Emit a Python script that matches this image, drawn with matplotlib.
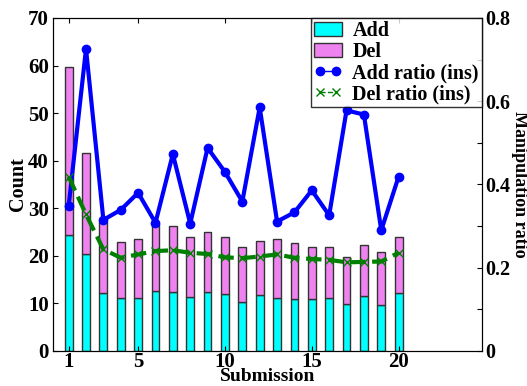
import numpy as np
import matplotlib
matplotlib.use('Agg')
import matplotlib.pyplot as plt
from matplotlib.lines import Line2D

plt.rcParams['font.family'] = ['Liberation Serif', 'DejaVu Serif']
plt.rcParams['font.weight'] = 'bold'

# Данные
submission = list(range(1, 21))
add_count = [24.3, 20.3, 12.1, 11.1, 11.1, 12.7, 12.5, 11.4, 12.5, 11.9,
             10.2, 11.7, 11.1, 10.9, 11.0, 11.1, 9.9, 11.5, 9.7, 12.1]
total_count = [59.6, 41.6, 27.2, 23.0, 23.6, 26.6, 26.2, 24.0, 25.1, 24.0,
               21.8, 23.1, 23.5, 22.8, 21.8, 21.9, 19.7, 22.2, 20.8, 24.0]
del_count = [t - a for t, a in zip(total_count, add_count)]
add_ratio = [0.348, 0.726, 0.315, 0.339, 0.380, 0.308, 0.473, 0.306, 0.488, 0.430,
             0.359, 0.585, 0.311, 0.333, 0.386, 0.326, 0.578, 0.568, 0.290, 0.419]
del_ratio = [0.419, 0.328, 0.244, 0.224, 0.232, 0.240, 0.242, 0.236, 0.233, 0.225,
             0.223, 0.227, 0.232, 0.224, 0.221, 0.219, 0.213, 0.214, 0.215, 0.236]

fig = plt.figure(figsize=(5.27, 3.86), dpi=100)
ax = fig.add_axes([0.1006, 0.0907, 0.8140, 0.8627])

b1 = ax.bar(submission, add_count, width=0.45, color='cyan', edgecolor='#333333',
            linewidth=1, label='Add')
b2 = ax.bar(submission, del_count, width=0.45, bottom=add_count, color='violet',
            edgecolor='#333333', linewidth=1, label='Del')

ax.set_xlim(0.1, 24.8)
ax.set_ylim(0, 70)
ax.set_xticks([1, 5, 10, 15, 20])
ax.set_yticks(range(0, 71, 10))
ax.tick_params(axis='both', direction='in', labelsize=15, pad=3)
ax.tick_params(axis='x', top=True, pad=1)
ax.set_xlabel('Submission', fontsize=14, fontweight='bold', labelpad=-3)
ax.set_ylabel('Count', fontsize=14.5, fontweight='bold', labelpad=0)

ax2 = ax.twinx()
l1, = ax2.plot(submission, add_ratio, '-o', color='blue', linewidth=3,
               markersize=6, label='Add ratio (ins)')
l2, = ax2.plot(submission, del_ratio, '--x', color='green', linewidth=3,
               markersize=6, markeredgewidth=1, label='Del ratio (ins)')
ax2.set_ylim(0, 0.8)
ax2.set_yticks(np.arange(0, 0.81, 0.1))
ax2.set_yticklabels(['0', '', '0.2', '', '0.4', '', '0.6', '', '0.8'])
ax2.tick_params(axis='y', direction='in', labelsize=14.5, pad=2)
ax2.set_ylabel('Manipulation ratio', fontsize=13, fontweight='bold',
               rotation=270, va='center', ha='center')
ax2.yaxis.set_label_coords(1.087, 0.5)

# тонкие линии в легенде, как в оригинале
h1 = Line2D([], [], color='blue', marker='o', linewidth=1, markersize=6)
h2 = Line2D([], [], color='green', marker='x', linestyle='--', linewidth=1,
            markersize=6, markeredgewidth=1)
leg = ax2.legend([b1, b2, h1, h2], ['Add', 'Del', 'Add ratio (ins)', 'Del ratio (ins)'],
                 loc='upper right', borderaxespad=0, fontsize=14.5, numpoints=2,
                 fancybox=False, handlelength=1.4, labelspacing=0.05,
                 borderpad=0.15, handletextpad=0.5)
leg.get_frame().set_edgecolor('black')
leg.get_frame().set_linewidth(1)
for t in leg.get_texts():
    t.set_fontweight('bold')

plt.savefig('out.png', dpi=100)
